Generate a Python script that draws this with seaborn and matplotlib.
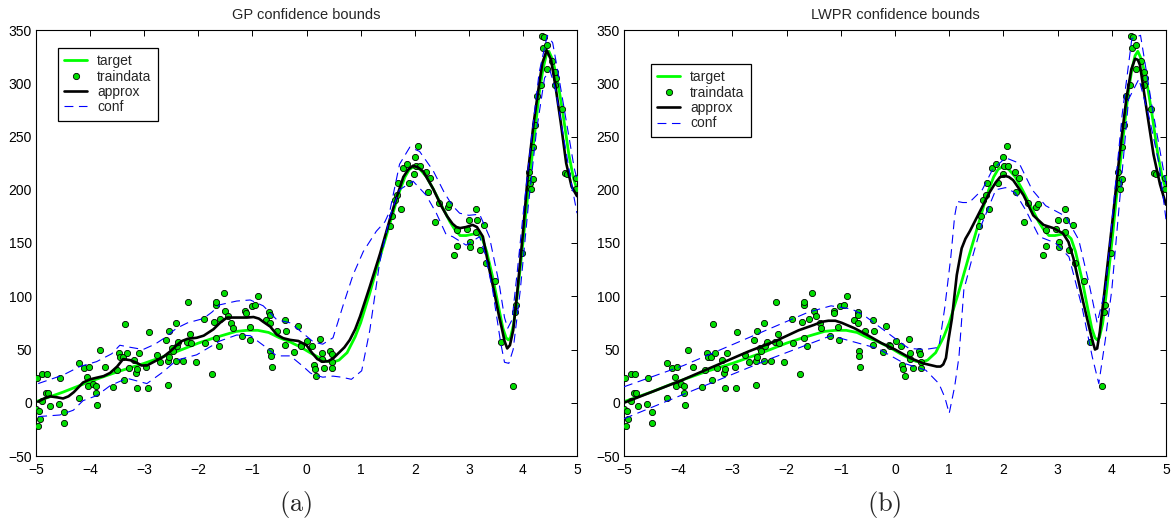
import matplotlib
matplotlib.use("Agg")
import matplotlib.pyplot as plt
from matplotlib.lines import Line2D
import seaborn as sns

# ---------------- data ----------------
# training data (shared by both panels)
train_x = [-4.99, -5.0, -4.97, -4.94, -4.92, -4.88, -4.88, -4.80, -4.81, -4.77, -4.74, -4.58, -4.56,
           -4.48, -4.48, -4.21, -4.21, -4.11, -4.02, -4.05, -4.04, -3.95, -3.90, -3.89, -3.88, -3.82,
           -3.72, -3.57, -3.50, -3.47, -3.45, -3.40, -3.38, -3.35, -3.32, -3.28, -3.19, -3.15, -3.14,
           -3.14, -3.10, -2.96, -2.93, -2.91, -2.77, -2.70, -2.60, -2.56, -2.55, -2.54, -2.56, -2.49,
           -2.47, -2.41, -2.42, -2.39, -2.37, -2.28, -2.21, -2.19, -2.16, -2.14, -2.05, -1.90, -1.88,
           -1.75, -1.71, -1.67, -1.67, -1.67, -1.62, -1.59, -1.53, -1.50, -1.46, -1.39, -1.36, -1.20,
           -1.13, -1.12, -1.04, -1.05, -1.01, -0.95, -0.89, -0.75, -0.69, -0.68, -0.68, -0.67, -0.66,
           -0.64, -0.55, -0.40, -0.38, -0.40, -0.23, -0.16, -0.11, -0.10, 0.01, 0.11, 0.13, 0.15, 0.18,
           0.25, 0.28, 0.28, 0.33, 0.44, 0.47, 0.48, 0.48,
           1.55, 1.58, 1.63, 1.67, 1.70, 1.74, 1.79, 1.86, 1.90, 1.99, 2.00, 2.02, 2.07, 2.09, 2.21,
           2.24, 2.28, 2.38, 2.45, 2.61, 2.64, 2.73, 2.78, 2.78, 2.97, 3.00, 3.02, 3.02, 3.14, 3.16,
           3.14, 3.21, 3.29, 3.32, 3.49, 3.60, 3.82, 3.86, 3.88, 3.98, 4.11, 4.13, 4.15, 4.19, 4.18,
           4.22, 4.26, 4.33, 4.36, 4.38, 4.39, 4.45, 4.45, 4.54, 4.59, 4.60, 4.62, 4.73, 4.78, 4.81,
           4.99, 4.99]
train_y = [23, -6, -22, -8, -15, 2, 27, 27, 9, 9, -3, -1, 23,
           -9, -19, 4, 37, 33, 34, 24, 16, 18, 16, 9, -2, 50,
           34, 15, 31, 47, 43, 43, 21, 74, 47, 33, 40, 28, 32,
           14, 47, 34, 14, 66, 45, 38, 59, 39, 43, 67, 17, 51,
           49, 75, 39, 53, 57, 39, 57, 95, 65, 56, 38, 79, 56,
           27, 76, 61, 92, 95, 53, 79, 103, 86, 81, 75, 70, 63,
           86, 84, 59, 71, 91, 92, 100, 78, 85, 82, 75, 49, 44,
           34, 67, 78, 67, 54, 48, 72, 54, 53, 58, 53, 35, 32, 25,
           60, 47, 41, 33, 49, 46, 38, 33,
           166, 175, 190, 195, 206, 182, 220, 224, 206, 215, 231, 222, 241, 222, 217,
           198, 211, 170, 188, 184, 187, 139, 147, 162, 163, 172, 151, 146, 182, 172,
           160, 143, 167, 131, 114, 57, 16, 85, 92, 141, 217, 206, 201, 210, 240,
           261, 288, 298, 344, 333, 343, 336, 313, 321, 311, 298, 305, 276, 216, 215,
           211, 201]

# target function (shared)
target_x = [-5, -4.5, -4, -3.5, -3, -2.5, -2, -1.7, -1.5, -1.3, -1.1, -0.9, -0.7, -0.5, -0.3,
            -0.1, 0.1, 0.25, 0.38, 0.48, 0.6, 0.75, 0.9, 1.0, 1.17, 1.36, 1.54, 1.65, 1.73, 1.82,
            1.9, 1.96, 2.03, 2.1, 2.22, 2.35, 2.5, 2.65, 2.75, 2.84, 2.95, 3.05, 3.15, 3.25, 3.33,
            3.45, 3.55, 3.63, 3.69, 3.73, 3.77, 3.83, 3.9, 4.0, 4.1, 4.2, 4.3, 4.37, 4.43, 4.48,
            4.55, 4.65, 4.75, 4.85, 4.93, 5.0]
target_y = [1, 10, 20, 29, 37, 46, 56, 61, 64, 67, 68, 68, 66, 61, 57,
            52, 46, 42, 39, 38, 40, 47, 62, 75, 103, 137, 168, 187, 200, 212,
            219, 221, 221, 219, 212, 200, 185, 170, 162, 157, 157, 158, 159, 154, 142,
            116, 90, 70, 61, 59, 61, 74, 103, 150, 200, 245, 290, 313, 326, 330,
            322, 300, 268, 233, 212, 200]

# GP panel
gp_x = [-4.96, -4.85, -4.74, -4.6, -4.5, -4.4, -4.3, -4.13, -4.0, -3.88, -3.75, -3.63, -3.5,
        -3.39, -3.26, -3.14, -3.05, -2.95, -2.8, -2.65, -2.5, -2.4, -2.3, -2.2, -2.03, -1.9,
        -1.72, -1.6, -1.47, -1.35, -1.25, -1.1, -0.98, -0.88, -0.8, -0.67, -0.55, -0.43,
        -0.3, -0.15, 0.0, 0.1, 0.2, 0.3, 0.4, 0.5, 0.6, 0.7, 0.8, 0.9, 0.99, 1.17, 1.36, 1.54,
        1.67, 1.79, 1.88, 1.97, 2.06, 2.16, 2.25, 2.34, 2.5, 2.6, 2.7, 2.77, 2.84, 2.95, 3.07,
        3.15, 3.26, 3.38, 3.47, 3.56, 3.61, 3.66, 3.71, 3.76, 3.82, 3.9, 4.0, 4.1, 4.2, 4.3,
        4.36, 4.44, 4.52, 4.6, 4.7, 4.8, 4.9, 5.0]
gp_y = [1, 4, 6, 5, 4, 6, 10, 19, 22, 23.5, 25, 28, 34,
        41, 40, 37.6, 35, 35, 39, 43, 49, 54, 58, 60, 61, 63,
        69, 75, 80, 80, 80, 80, 80.5, 79, 76, 71.5, 64, 60.6,
        59, 58, 54, 47, 41, 38.5, 39, 42, 47, 52, 59, 69, 81, 109, 140, 172,
        193.5, 212, 219, 222.6, 221, 217, 209, 201, 184, 175, 168, 165, 164, 165, 167,
        165, 156, 125, 104, 81, 70, 58, 51, 54, 68, 106, 159, 219, 263, 299,
        319, 331, 322, 298, 263, 225, 203, 194]
gp_up_x = [-4.96, -4.5, -4.19, -3.88, -3.6, -3.45, -3.25, -3.02, -2.8, -2.65, -2.4, -2.2, -1.91,
           -1.75, -1.6, -1.29, -1.04, -0.8, -0.55, -0.3, -0.06, 0.13, 0.3, 0.49, 0.68, 0.86,
           1.05, 1.29, 1.45, 1.54, 1.72, 1.91, 2.09, 2.34, 2.55, 2.7, 2.83, 3.0, 3.2, 3.38,
           3.56, 3.66, 3.72, 3.8, 3.9, 4.0, 4.15, 4.3, 4.45, 4.55, 4.65, 4.8, 4.95, 5.0]
gp_up_y = [18, 26, 34, 38.6, 46, 54, 52, 50, 55, 60, 70, 75, 79,
           85, 92, 95.5, 96.5, 91, 78, 75, 65, 57, 55, 61, 92, 120,
           142, 161, 170, 180, 224, 240, 236, 218, 197, 185, 178, 176, 177, 156,
           112, 80, 70, 78, 125, 175, 245, 310, 345, 338, 310, 265, 220, 210]
gp_lo_x = [-4.96, -4.56, -4.31, -4.13, -3.88, -3.63, -3.32, -2.95, -2.65, -2.4, -2.03, -1.6, -1.29,
           -1.04, -0.8, -0.55, -0.3, -0.06, 0.07, 0.13, 0.3, 0.49, 0.65, 0.83, 1.02, 1.17, 1.35,
           1.54, 1.72, 1.97, 2.21, 2.4, 2.58, 2.7, 2.95, 3.2, 3.3, 3.44, 3.59, 3.66, 3.74, 3.82,
           3.95, 4.1, 4.25, 4.4, 4.5, 4.6, 4.75, 4.9, 5.0]
gp_lo_y = [-13, -11.5, -7, 2, 6.6, 16, 23, 18, 29, 40, 45, 58, 63.6,
           63, 54, 44, 44, 34, 28, 26.5, 24, 25, 24, 22, 30, 68, 131,
           175, 200, 208, 195, 178, 158, 156, 148, 156, 140, 106, 56, 38, 37, 50,
           105, 185, 255, 305, 312, 295, 250, 205, 178]

# LWPR panel
lwpr_x = [-5, -3.94, -2.71, -2.2, -1.78, -1.5, -1.35, -1.23, -1.1, -0.98, -0.75, -0.49, -0.25,
          0.0, 0.28, 0.52, 0.77, 0.84, 0.89, 0.94, 0.98, 1.05, 1.14, 1.23, 1.3, 1.38, 1.57, 1.75,
          1.86, 1.94, 2.03, 2.1, 2.18, 2.37, 2.55, 2.74, 2.92, 3.1, 3.2, 3.29, 3.47, 3.6, 3.65,
          3.69, 3.73, 3.78, 3.9, 4.03, 4.15, 4.27, 4.36, 4.43, 4.48, 4.52, 4.64, 4.77, 4.89, 5.0]
lwpr_y = [0, 21, 48, 58, 68, 73, 76, 77, 77, 75, 70, 63, 56,
          50, 42, 37, 34, 34, 36, 42, 57, 79, 120, 145, 154, 161, 180, 198,
          207, 212, 213, 212, 209, 195, 176, 167, 164, 159, 151, 136, 95, 67, 57,
          50, 51, 67, 120, 179, 236, 286, 313, 323, 322, 317, 276, 233, 205, 186]
lwpr_up_x = [-5, -3.9, -2.29, -1.6, -1.18, -0.8, -0.57, 0.17, 0.26, 0.55, 0.81, 0.92, 1.03, 1.1,
             1.15, 1.25, 1.37, 1.61, 1.8, 2.04, 2.29, 2.53, 2.78, 3.15, 3.39, 3.58, 3.73, 3.88,
             4.0, 4.19, 4.37, 4.53, 4.74, 4.93, 5.0]
lwpr_up_y = [15, 35, 70, 85, 91, 88, 82, 54, 51, 50, 52, 90, 137, 175,
             189, 188, 188, 200, 219, 230, 225, 200, 185, 175, 153, 112, 75, 106,
             169, 270, 342, 345, 279, 225, 205]
lwpr_lo_x = [-5, -2.29, -1.18, -0.32, 0.17, 0.57, 0.81, 0.92, 1.0, 1.1, 1.18, 1.27, 1.43, 1.61,
             1.86, 2.04, 2.22, 2.41, 2.66, 2.96, 3.21, 3.45, 3.64, 3.76, 3.88, 4.0, 4.19, 4.31,
             4.5, 4.68, 4.87, 5.0]
lwpr_lo_y = [-15, 41.5, 63, 51, 37, 30.5, 18, 5, -10, 15, 43, 106, 137, 169,
             200, 202, 197, 181, 156, 150, 137, 90, 43, 18, 59, 106, 216, 285,
             304, 270, 225, 172]

titles = ["GP confidence bounds", "LWPR confidence bounds"]
panel_labels = ["(a)", "(b)"]
legend_labels = ["target", "traindata", "approx", "conf"]
x_ticks = [-5, -4, -3, -2, -1, 0, 1, 2, 3, 4, 5]
y_ticks = [-50, 0, 50, 100, 150, 200, 250, 300, 350]

# ---------------- style ----------------
sns.set_style("white")
plt.rcParams["font.family"] = ["Liberation Sans", "DejaVu Sans"]
plt.rcParams["mathtext.fontset"] = "cm"

GREEN = "#00ff00"
DOT = "#00dd00"
BLUE = "#0000ff"
DASH = (0, (8, 5))

fig = plt.figure(figsize=(11.72, 5.23), dpi=100)
axes = [fig.add_axes([36 / 1172, 1 - 456 / 523, 541 / 1172, 426 / 523]),
        fig.add_axes([624 / 1172, 1 - 456 / 523, 542 / 1172, 426 / 523])]

panels = [
    (gp_x, gp_y, gp_up_x, gp_up_y, gp_lo_x, gp_lo_y),
    (lwpr_x, lwpr_y, lwpr_up_x, lwpr_up_y, lwpr_lo_x, lwpr_lo_y),
]
legend_anchor = [(0.0407, 0.958), (0.050, 0.920)]

for i, ax in enumerate(axes):
    ax_x, ax_y, up_x, up_y, lo_x, lo_y = panels[i]
    sns.lineplot(x=target_x, y=target_y, ax=ax, color=GREEN, linewidth=2.0,
                 estimator=None, sort=False)
    sns.scatterplot(x=train_x, y=train_y, ax=ax, color=DOT, edgecolor="black",
                    s=20, linewidth=0.6, zorder=3, legend=False)
    sns.lineplot(x=ax_x, y=ax_y, ax=ax, color="black", linewidth=1.9,
                 estimator=None, sort=False, zorder=4)
    sns.lineplot(x=up_x, y=up_y, ax=ax, color=BLUE, linewidth=0.8,
                 linestyle=DASH, estimator=None, sort=False, zorder=5)
    sns.lineplot(x=lo_x, y=lo_y, ax=ax, color=BLUE, linewidth=0.8,
                 linestyle=DASH, estimator=None, sort=False, zorder=5)

    ax.set_xlim(-5, 5)
    ax.set_ylim(-50, 350)
    ax.set_xticks(x_ticks)
    ax.set_yticks(y_ticks)
    ax.set_xlabel("")
    ax.set_ylabel("")
    ax.tick_params(direction="in", length=4, width=0.7, top=True, right=True,
                   labelsize=10, colors="black")
    ax.tick_params(axis="x", pad=5)
    ax.tick_params(axis="y", pad=3)
    for sp in ax.spines.values():
        sp.set_visible(True)
        sp.set_color("black")
        sp.set_linewidth(0.8)
    ax.set_title(titles[i], fontsize=10.5, pad=8)

    handles = [
        Line2D([], [], color=GREEN, linewidth=2.0),
        Line2D([], [], linestyle="none", marker="o", markersize=4.5,
               markerfacecolor=DOT, markeredgecolor="black", markeredgewidth=0.6),
        Line2D([], [], color="black", linewidth=1.9),
        Line2D([], [], color=BLUE, linewidth=0.8, linestyle=DASH),
    ]
    leg = ax.legend(handles, legend_labels, loc="upper left",
                    bbox_to_anchor=legend_anchor[i], borderaxespad=0,
                    fontsize=10, handlelength=1.65, handletextpad=0.7,
                    labelspacing=0.1, borderpad=0.45, fancybox=False,
                    framealpha=1, edgecolor="black")
    leg.get_frame().set_linewidth(0.9)

fig.text(296 / 1172, 1 - 505 / 523, r"$\mathrm{" + panel_labels[0] + "}$",
         ha="center", va="center", fontsize=19)
fig.text(884 / 1172, 1 - 505 / 523, r"$\mathrm{" + panel_labels[1] + "}$",
         ha="center", va="center", fontsize=19)

fig.savefig("out.png", dpi=100)
